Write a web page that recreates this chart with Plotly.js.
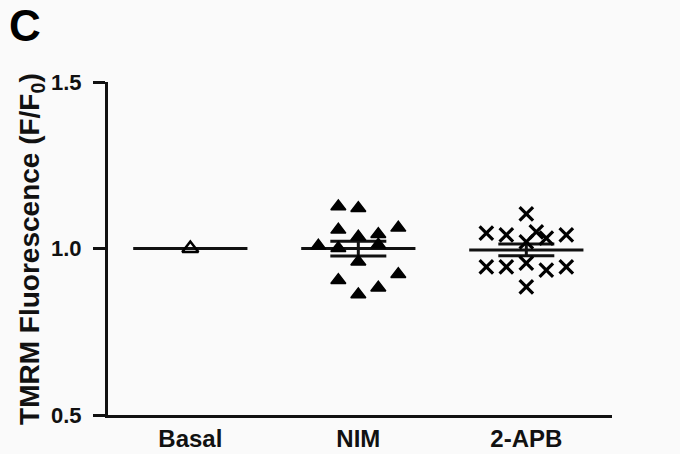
<!DOCTYPE html>
<html>
<head>
<meta charset="utf-8">
<script src="https://cdn.plot.ly/plotly-3.0.1.min.js"></script>
<style>
  html, body { margin: 0; padding: 0; background: #fafafa; }
  #chart { width: 680px; height: 454px; }
</style>
</head>
<body>
<div id="chart"></div>
<script>
// ---- data ----
const categories = ["Basal", "NIM", "2-APB"];
const basalValues = [1.0];
const basalCols = [0];
const nimValues = [1.126, 1.121, 1.056, 1.062, 1.035, 1.043, 1.008, 1.001, 1.011, 0.960, 0.905, 0.923, 0.882, 0.862];
const nimCols   = [-1, 0, -1, 2, 0, 1, -2, -1, 1, 0, -1, 2, 1, 0];
const apbValues = [1.104, 1.046, 1.041, 1.050, 1.031, 1.041, 1.020, 0.945, 0.945, 0.956, 0.935, 0.945, 0.885];
const apbCols   = [0, -2, -1, 0.5, 1, 2, 0, -2, -1, 0, 1, 2, 0];
const yTickVals = [0.5, 1.0, 1.5];
const yTickText = ["0.5", "1.0", "1.5"];
const yTitle = "TMRM Fluorescence (F/F<sub>0</sub>)";
const panelLabel = "C";

// ---- helpers ----
const colStep = 0.119;
const meanHalf = 0.34;
function mean(a) { return a.reduce((s, v) => s + v, 0) / a.length; }
function sem(a) {
  if (a.length < 2) return 0;
  const m = mean(a);
  const v = a.reduce((s, x) => s + (x - m) * (x - m), 0) / (a.length - 1);
  return Math.sqrt(v / a.length);
}

const groups = [
  { idx: 0, vals: basalValues, cols: basalCols, marker: { symbol: "triangle-up-open", size: 14, color: "#000", line: { width: 2.5, color: "#000" } } },
  { idx: 1, vals: nimValues, cols: nimCols, marker: { symbol: "triangle-up", size: 13, color: "#000", line: { width: 1.5, color: "#000" } } },
  { idx: 2, vals: apbValues, cols: apbCols, marker: { symbol: "x-thin", size: 13.5, color: "#000", line: { width: 3.2, color: "#000" } } }
];

const traces = [];
groups.forEach(g => {
  const m = mean(g.vals);
  const s = sem(g.vals);
  traces.push({
    type: "scatter", mode: "lines", hoverinfo: "skip", showlegend: false,
    x: [g.idx - meanHalf, g.idx + meanHalf], y: [m, m],
    line: { color: "#111", width: 3 }
  });
  if (s > 0) {
    traces.push({
      type: "scatter", mode: "markers", showlegend: false, hoverinfo: "skip",
      x: [g.idx], y: [m], marker: { size: 1, opacity: 0 },
      error_y: { type: "data", array: [s], visible: true, color: "#111", thickness: 3, width: 28 }
    });
  }
  traces.push({
    type: "scatter", mode: "markers", showlegend: false,
    x: g.cols.map(c => g.idx + c * colStep), y: g.vals,
    marker: g.marker
  });
});

const font = { family: "Arial, 'Liberation Sans', sans-serif", color: "#111" };

const layout = {
  width: 680, height: 454,
  paper_bgcolor: "#fafafa", plot_bgcolor: "#fafafa",
  margin: { l: 108, r: 68, t: 82, b: 39 },
  font: font,
  showlegend: false,
  xaxis: {
    range: [-0.49, 2.51],
    tickvals: [0, 1, 2], ticktext: categories.map(c => "<b>" + c + "</b>"),
    showline: true, linewidth: 3, linecolor: "#111",
    ticks: "", showgrid: false, zeroline: false,
    tickfont: { size: 24, family: font.family, color: "#111" }
  },
  yaxis: {
    range: [0.5, 1.5],
    tickvals: yTickVals, ticktext: yTickText.map(t => "<b>" + t + "</b>"),
    showline: true, linewidth: 3, linecolor: "#111",
    ticks: "outside", ticklen: 12, tickwidth: 3, tickcolor: "#111",
    ticklabelstandoff: 7,
    showgrid: false, zeroline: false,
    tickfont: { size: 22, family: font.family, color: "#111" }
  },
  annotations: [
    {
      text: "<b>" + panelLabel + "</b>", xref: "paper", yref: "paper", x: -0.2, y: 1.25,
      xanchor: "left", yanchor: "top", showarrow: false,
      font: { size: 44, family: font.family, color: "#000" }
    },
    {
      text: "<b>" + yTitle + "</b>", xref: "paper", yref: "paper", x: -0.152, y: 0.5,
      xanchor: "center", yanchor: "middle", textangle: -90, showarrow: false,
      font: { size: 28, family: font.family, color: "#111" }
    }
  ]
};

Plotly.newPlot("chart", traces, layout, { displayModeBar: false, staticPlot: true });
</script>
</body>
</html>
